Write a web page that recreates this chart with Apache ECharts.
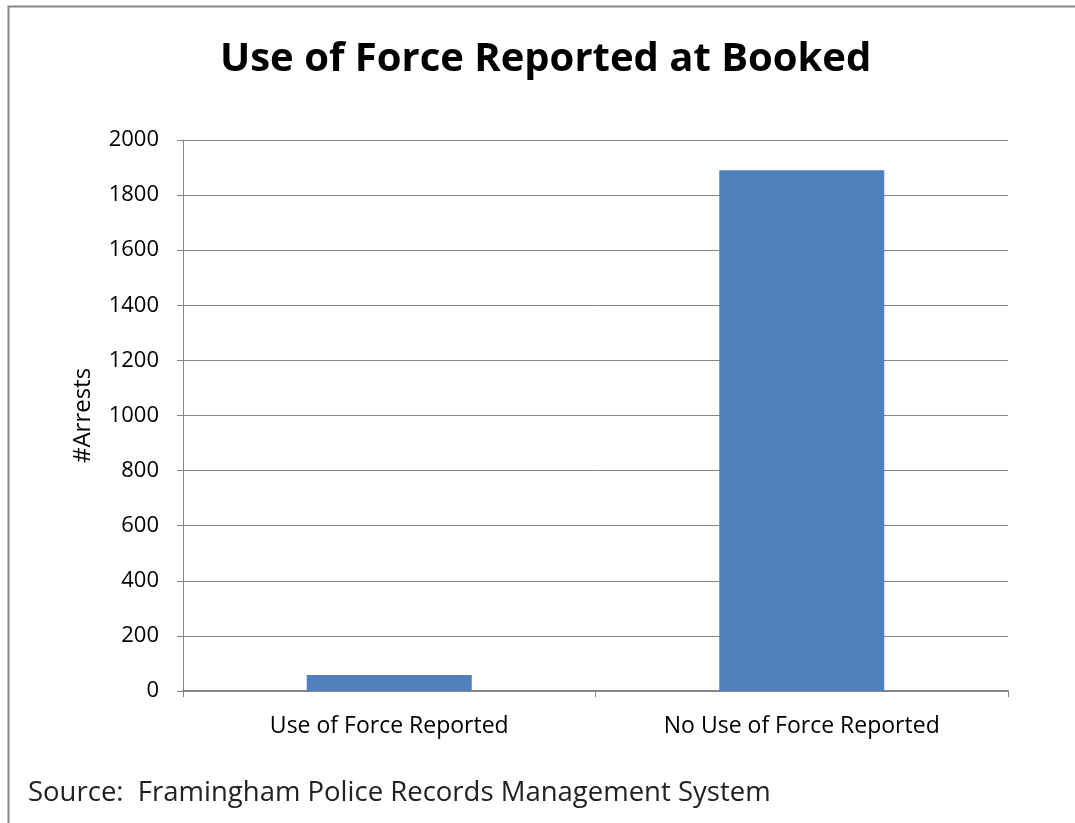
<!DOCTYPE html>
<html>
<head>
<meta charset="utf-8">
<script src="https://cdn.jsdelivr.net/npm/echarts@6/dist/echarts.min.js"></script>
<style>
  html, body { margin: 0; padding: 0; background: #fff; }
  #chart { width: 1075px; height: 823px; }
</style>
</head>
<body>
<div id="chart"></div>
<script>
// data
var categories = ['Use of Force Reported', 'No Use of Force Reported'];
var arrests = [58, 1890];
var yTicks = [0, 200, 400, 600, 800, 1000, 1200, 1400, 1600, 1800, 2000];

var chart = echarts.init(document.getElementById('chart'));
var font = '"Open Sans", sans-serif';
var gray = '#868686';

chart.setOption({
    backgroundColor: '#ffffff',
    animation: false,
    title: {
        text: 'Use of Force Reported at Booked',
        left: 215,
        top: 35,
        textStyle: { fontFamily: font, fontSize: 40, fontWeight: 'bold', color: '#000' }
    },
    grid: { left: 183, right: 67, top: 140, bottom: 132 },
    xAxis: {
        type: 'category',
        data: categories,
        axisLine: { lineStyle: { color: gray, width: 2 } },
        axisTick: { show: true, length: 6, lineStyle: { color: gray } },
        axisLabel: { margin: 24, color: '#000', fontFamily: font, fontSize: 23 }
    },
    yAxis: {
        type: 'value',
        min: yTicks[0],
        max: yTicks[yTicks.length - 1],
        interval: 200,
        name: '#Arrests',
        nameLocation: 'middle',
        nameGap: 88,
        nameRotate: 90,
        nameTextStyle: { fontFamily: font, fontSize: 24, color: '#000' },
        axisLine: { show: true, lineStyle: { color: gray } },
        axisTick: { show: true, length: 6, lineStyle: { color: gray } },
        axisLabel: {
            margin: 24, color: '#000', fontFamily: font, fontSize: 22,
            formatter: function (v) { return String(v); }
        },
        splitLine: { lineStyle: { color: gray, width: 1 } }
    },
    series: [{
        type: 'bar',
        data: arrests,
        barWidth: '40%',
        itemStyle: { color: '#4F81BD' }
    }],
    graphic: [
        {
            type: 'polyline',
            shape: { points: [[8.5, 823], [8.5, 6.5], [1075, 6.5]] },
            style: { stroke: gray, lineWidth: 2, fill: null }
        },
        {
            type: 'text',
            left: 28,
            top: 779,
            style: {
                text: 'Source:  Framingham Police Records Management System',
                font: '27.5px "Open Sans", sans-serif',
                fill: '#222'
            }
        }
    ]
});
</script>
</body>
</html>
